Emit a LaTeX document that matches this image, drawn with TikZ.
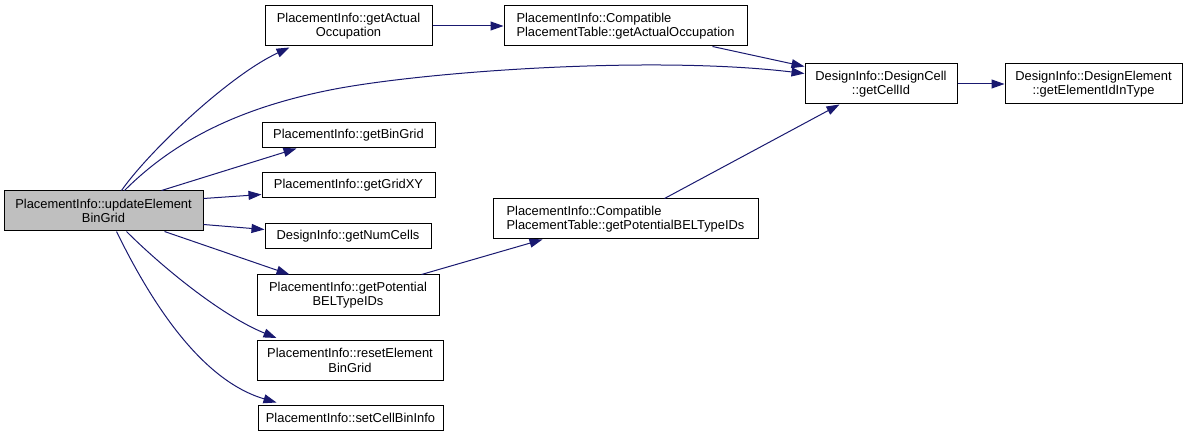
\documentclass[tikz,border=0pt]{standalone}
\usepackage{fontspec}
\setmainfont{Liberation Sans}
\usetikzlibrary{arrows.meta,calc}
\definecolor{edgeblue}{HTML}{191970}
\definecolor{maingray}{HTML}{BFBFBF}
\begin{document}
\begin{tikzpicture}[x=1pt,y=-1pt,
  box/.style={draw=black,line width=1pt,fill=white,inner sep=0pt,align=center,
    font=\fontsize{12.9}{14.5}\selectfont},
  callee/.style={-{Triangle[length=13pt,width=9pt]},draw=edgeblue,line width=1pt},
]
\useasboundingbox (0,0) rectangle (1188,438);
% nodes
\node[box,fill=maingray,minimum width=199,minimum height=40] (main) at (103.5,211) {PlacementInfo::updateElement\\BinGrid};
\node[box,minimum width=167,minimum height=40] (gao) at (348.5,26) {PlacementInfo::getActual\\Occupation};
\node[box,align=left,minimum width=243,minimum height=40] (cgao) at (625.5,26) {PlacementInfo::Compatible\\PlacementTable::getActualOccupation};
\node[box,minimum width=173,minimum height=25] (bingrid) at (348.5,135.5) {PlacementInfo::getBinGrid};
\node[box,minimum width=173,minimum height=25] (gridxy) at (348.5,185.5) {PlacementInfo::getGridXY};
\node[box,minimum width=166,minimum height=25] (numcells) at (348,236.5) {DesignInfo::getNumCells};
\node[box,minimum width=182,minimum height=40] (pot) at (348,295) {PlacementInfo::getPotential\\BELTypeIDs};
\node[box,align=left,minimum width=265,minimum height=40] (cpot) at (625.5,219) {PlacementInfo::Compatible\\PlacementTable::getPotentialBELTypeIDs};
\node[box,minimum width=186,minimum height=40] (reset) at (350,360.5) {PlacementInfo::resetElement\\BinGrid};
\node[box,minimum width=185,minimum height=25] (setcell) at (350.5,417.5) {PlacementInfo::setCellBinInfo};
\node[box,minimum width=152,minimum height=40] (cell) at (881,84) {DesignInfo::DesignCell\\::getCellId};
\node[box,minimum width=177,minimum height=40] (elem) at (1093.5,84) {DesignInfo::DesignElement\\::getElementIdInType};
% edges
\draw[callee] ($(main.north west)+(118,0)$) .. controls (150,150) and (230,75) .. ($(gao.south west)+(25,1)$);
\draw[callee] ($(main.north west)+(121,0)$) .. controls (175,140) and (240,108) .. (330,90)
   .. controls (420,72) and (650,55) .. ($(cell.north west)+(0,10)$);
\draw[callee] ($(main.north west)+(158,0)$) -- ($(bingrid.south west)+(35,0)$);
\draw[callee] ($(main.north east)+(0,8)$) -- ($(gridxy.south west)+(0,-4)$);
\draw[callee] ($(main.south east)+(0,-7)$) -- ($(numcells.north west)+(0,6)$);
\draw[callee] ($(main.south west)+(161,0)$) -- ($(pot.north west)+(33,0)$);
\draw[callee] ($(main.south west)+(123,0)$) .. controls (160,265) and (220,315) .. ($(reset.north west)+(20,-2)$);
\draw[callee] ($(main.south west)+(113,0)$) .. controls (150,300) and (200,380) .. ($(setcell.north west)+(19,-2)$);
\draw[callee] (gao.east) -- (cgao.west);
\draw[callee] ($(cgao.south west)+(209,0)$) -- ($(cell.north west)+(0,3)$);
\draw[callee] ($(pot.north west)+(165,0)$) -- ($(cpot.south west)+(50,0)$);
\draw[callee] ($(cpot.north west)+(172,0)$) -- ($(cell.south west)+(35,0)$);
\draw[callee] (cell.east) -- (elem.west);
\end{tikzpicture}
\end{document}
